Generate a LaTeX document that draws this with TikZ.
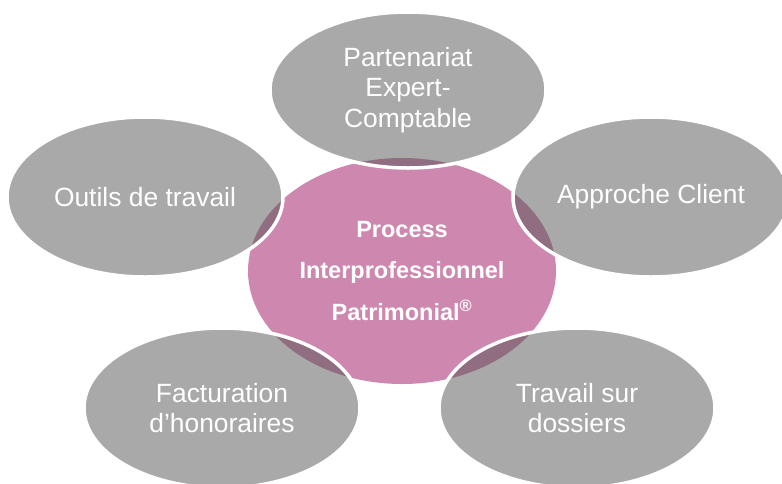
\documentclass[tikz,border=0pt]{standalone}
\usepackage{fontspec}
\setmainfont{Liberation Sans}
\usetikzlibrary{shapes.geometric}
\definecolor{corepink}{HTML}{CE88AF}
\definecolor{satgray}{HTML}{535353}
\begin{document}
\begin{tikzpicture}[x=1pt,y=-1pt,
  corebox/.style={ellipse, fill=corepink, inner sep=0pt, minimum width=308pt, minimum height=226pt,
    text=white, font=\bfseries\fontsize{23.5}{41.5}\selectfont, align=center},
  satbox/.style={ellipse, fill=satgray, fill opacity=0.5, text opacity=1, draw=white, draw opacity=1,
    line width=3.5pt, inner sep=0pt, minimum width=276pt, minimum height=160pt,
    text=white, font=\fontsize{26.4}{30.5}\selectfont, align=center}]
\clip (0,0) rectangle (782,483);
\node[corebox] (core) at (402,271) {Process\\Interprofessionnel\\Patrimonial\textsuperscript{®}};
\node[satbox, minimum height=156pt] (top) at (408,90) {Partenariat\\Expert-\\Comptable};
\node[satbox] (left) at (145,197) {Outils de travail};
\node[satbox] (right) at (651,197) {Approche Client};
\node[satbox] (botleft) at (222,408) {Facturation\\d’honoraires};
\node[satbox] (botright) at (577,408) {Travail sur\\dossiers};
\end{tikzpicture}
\end{document}
